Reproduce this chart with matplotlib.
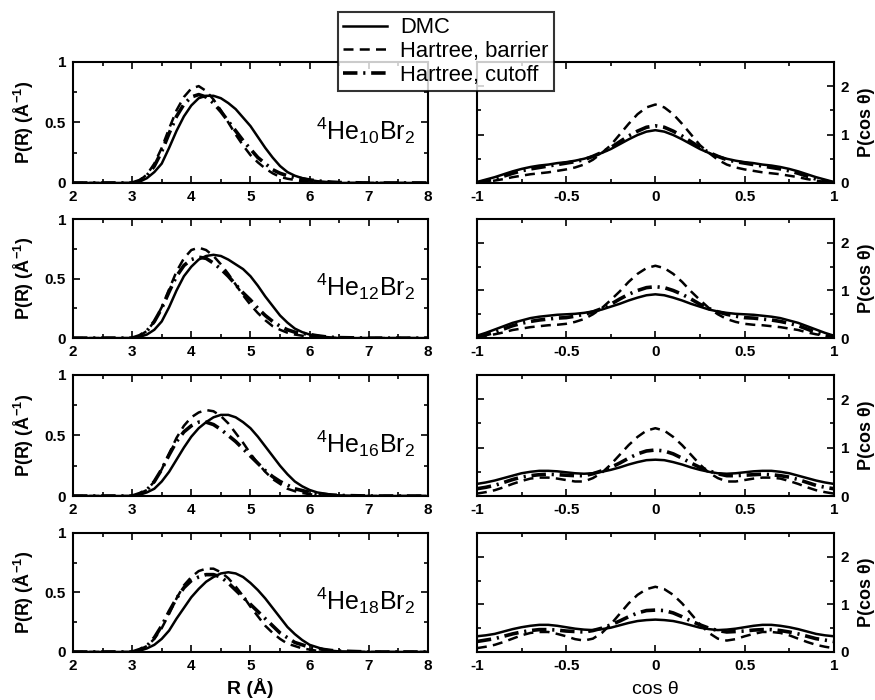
import matplotlib.pyplot as plt
import numpy as np
from matplotlib.ticker import MultipleLocator

plt.rcParams["font.family"] = ["Liberation Sans", "DejaVu Sans"]
plt.rcParams["mathtext.fontset"] = "custom"
plt.rcParams["mathtext.rm"] = "Liberation Sans"
plt.rcParams["mathtext.bf"] = "Liberation Sans:bold"

## radial distributions P(R), R in Angstrom
R = [2.0, 2.5, 2.75,
     3.0, 3.125, 3.25, 3.375, 3.5, 3.625, 3.75, 3.875, 4.0, 4.125, 4.25, 4.375,
     4.5, 4.625, 4.75, 4.875, 5.0, 5.125, 5.25, 5.375, 5.5, 5.625, 5.75, 5.875,
     6.0, 6.125, 6.25, 6.375, 6.5,
     7.0, 7.5, 8.0]

dmc_10 = [0, 0, 0,
          0.0, 0.01, 0.04, 0.09, 0.16, 0.29, 0.43, 0.55, 0.64, 0.70, 0.72, 0.72,
          0.70, 0.66, 0.61, 0.54, 0.47, 0.38, 0.29, 0.21, 0.14, 0.09, 0.06, 0.04,
          0.025, 0.015, 0.01, 0.005, 0.0,
          0, 0, 0]
bar_10 = [0, 0, 0,
          0.0, 0.02, 0.07, 0.16, 0.29, 0.45, 0.60, 0.71, 0.78, 0.80, 0.76, 0.69,
          0.60, 0.50, 0.40, 0.31, 0.23, 0.17, 0.12, 0.08, 0.05, 0.035, 0.025, 0.015,
          0.01, 0.005, 0.0, 0.0, 0.0,
          0, 0, 0]
cut_10 = [0, 0, 0,
          0.0, 0.02, 0.06, 0.14, 0.26, 0.41, 0.55, 0.65, 0.71, 0.73, 0.71, 0.66,
          0.59, 0.51, 0.43, 0.35, 0.28, 0.21, 0.16, 0.11, 0.08, 0.06, 0.045, 0.035,
          0.025, 0.018, 0.012, 0.007, 0.004,
          0, 0, 0]

dmc_12 = [0, 0, 0,
          0.0, 0.01, 0.03, 0.07, 0.14, 0.26, 0.40, 0.52, 0.60, 0.66, 0.69, 0.70,
          0.69, 0.66, 0.62, 0.58, 0.52, 0.44, 0.35, 0.27, 0.19, 0.13, 0.08, 0.05,
          0.03, 0.02, 0.01, 0.005, 0.0,
          0, 0, 0]
bar_12 = [0, 0, 0,
          0.0, 0.02, 0.06, 0.14, 0.26, 0.41, 0.56, 0.67, 0.74, 0.76, 0.74, 0.69,
          0.62, 0.54, 0.45, 0.36, 0.28, 0.21, 0.15, 0.10, 0.07, 0.045, 0.03, 0.02,
          0.01, 0.005, 0.0, 0.0, 0.0,
          0, 0, 0]
cut_12 = [0, 0, 0,
          0.0, 0.02, 0.06, 0.14, 0.25, 0.39, 0.52, 0.61, 0.66, 0.68, 0.67, 0.63,
          0.58, 0.52, 0.45, 0.38, 0.32, 0.25, 0.19, 0.14, 0.10, 0.07, 0.05, 0.04,
          0.03, 0.02, 0.012, 0.007, 0.004,
          0, 0, 0]

dmc_16 = [0, 0, 0,
          0.0, 0.01, 0.03, 0.06, 0.12, 0.20, 0.30, 0.40, 0.49, 0.56, 0.61, 0.65,
          0.67, 0.67, 0.65, 0.61, 0.56, 0.49, 0.41, 0.33, 0.25, 0.18, 0.12, 0.08,
          0.05, 0.03, 0.02, 0.01, 0.005,
          0, 0, 0]
bar_16 = [0, 0, 0,
          0.0, 0.02, 0.05, 0.12, 0.22, 0.35, 0.48, 0.58, 0.65, 0.69, 0.71, 0.70,
          0.66, 0.60, 0.52, 0.44, 0.35, 0.27, 0.20, 0.14, 0.10, 0.06, 0.04, 0.025,
          0.015, 0.008, 0.004, 0.0, 0.0,
          0, 0, 0]
cut_16 = [0, 0, 0,
          0.0, 0.02, 0.05, 0.12, 0.22, 0.34, 0.45, 0.53, 0.58, 0.61, 0.61, 0.59,
          0.55, 0.50, 0.45, 0.39, 0.33, 0.27, 0.21, 0.16, 0.12, 0.09, 0.06, 0.045,
          0.03, 0.02, 0.013, 0.008, 0.005,
          0, 0, 0]

dmc_18 = [0, 0, 0,
          0.0, 0.01, 0.03, 0.06, 0.11, 0.18, 0.28, 0.37, 0.46, 0.53, 0.59, 0.63,
          0.66, 0.67, 0.66, 0.63, 0.58, 0.52, 0.45, 0.37, 0.29, 0.21, 0.15, 0.10,
          0.06, 0.04, 0.02, 0.01, 0.005,
          0, 0, 0]
bar_18 = [0, 0, 0,
          0.0, 0.02, 0.05, 0.11, 0.20, 0.32, 0.45, 0.56, 0.63, 0.68, 0.70, 0.70,
          0.67, 0.62, 0.55, 0.47, 0.38, 0.30, 0.22, 0.16, 0.11, 0.07, 0.05, 0.03,
          0.02, 0.01, 0.005, 0.0, 0.0,
          0, 0, 0]
cut_18 = [0, 0, 0,
          0.0, 0.02, 0.05, 0.12, 0.22, 0.34, 0.45, 0.54, 0.60, 0.63, 0.65, 0.65,
          0.63, 0.58, 0.52, 0.46, 0.40, 0.34, 0.28, 0.22, 0.16, 0.12, 0.08, 0.06,
          0.04, 0.03, 0.02, 0.012, 0.008,
          0, 0, 0]

## angular distributions P(cos theta)
c = [-1.0, -0.95, -0.9, -0.85, -0.8, -0.75, -0.7, -0.65, -0.6, -0.55, -0.5,
     -0.45, -0.4, -0.35, -0.3, -0.25, -0.2, -0.15, -0.1, -0.05, 0.0,
     0.05, 0.1, 0.15, 0.2, 0.25, 0.3, 0.35, 0.4, 0.45, 0.5,
     0.55, 0.6, 0.65, 0.7, 0.75, 0.8, 0.85, 0.9, 0.95, 1.0]

adm_10 = [0.02, 0.07, 0.12, 0.18, 0.24, 0.29, 0.33, 0.36, 0.38, 0.41, 0.43,
          0.46, 0.50, 0.55, 0.62, 0.70, 0.80, 0.90, 0.99, 1.06, 1.09,
          1.06, 0.99, 0.90, 0.80, 0.70, 0.62, 0.55, 0.50, 0.46, 0.43,
          0.41, 0.38, 0.36, 0.33, 0.29, 0.24, 0.18, 0.12, 0.07, 0.02]
aba_10 = [0.00, 0.02, 0.05, 0.08, 0.12, 0.15, 0.18, 0.20, 0.22, 0.25, 0.28,
          0.32, 0.38, 0.48, 0.62, 0.78, 1.00, 1.22, 1.42, 1.56, 1.62,
          1.56, 1.42, 1.22, 1.00, 0.78, 0.62, 0.48, 0.38, 0.32, 0.28,
          0.25, 0.22, 0.20, 0.18, 0.15, 0.12, 0.08, 0.05, 0.02, 0.00]
acu_10 = [0.00, 0.04, 0.08, 0.14, 0.20, 0.25, 0.29, 0.32, 0.35, 0.38, 0.41,
          0.44, 0.48, 0.55, 0.63, 0.73, 0.85, 0.97, 1.07, 1.15, 1.18,
          1.15, 1.07, 0.97, 0.85, 0.73, 0.63, 0.55, 0.48, 0.44, 0.41,
          0.38, 0.35, 0.32, 0.29, 0.25, 0.20, 0.14, 0.08, 0.04, 0.00]

adm_12 = [0.05, 0.11, 0.18, 0.25, 0.32, 0.37, 0.42, 0.45, 0.47, 0.49, 0.50,
          0.51, 0.53, 0.56, 0.60, 0.66, 0.72, 0.79, 0.85, 0.90, 0.92,
          0.90, 0.85, 0.79, 0.72, 0.66, 0.60, 0.56, 0.53, 0.51, 0.50,
          0.49, 0.47, 0.45, 0.42, 0.37, 0.32, 0.25, 0.18, 0.11, 0.05]
aba_12 = [0.02, 0.05, 0.08, 0.12, 0.17, 0.20, 0.23, 0.25, 0.27, 0.28, 0.30,
          0.34, 0.40, 0.50, 0.63, 0.80, 0.98, 1.18, 1.35, 1.47, 1.52,
          1.47, 1.35, 1.18, 0.98, 0.80, 0.63, 0.50, 0.40, 0.34, 0.30,
          0.28, 0.27, 0.25, 0.23, 0.20, 0.17, 0.12, 0.08, 0.05, 0.02]
acu_12 = [0.03, 0.07, 0.12, 0.19, 0.26, 0.31, 0.35, 0.38, 0.40, 0.42, 0.43,
          0.46, 0.50, 0.55, 0.62, 0.71, 0.82, 0.92, 1.00, 1.06, 1.08,
          1.06, 1.00, 0.92, 0.82, 0.71, 0.62, 0.55, 0.50, 0.46, 0.43,
          0.42, 0.40, 0.38, 0.35, 0.31, 0.26, 0.19, 0.12, 0.07, 0.03]

adm_16 = [0.25, 0.28, 0.32, 0.37, 0.42, 0.47, 0.50, 0.52, 0.52, 0.51, 0.49,
          0.47, 0.46, 0.47, 0.50, 0.54, 0.59, 0.65, 0.70, 0.74, 0.75,
          0.74, 0.70, 0.65, 0.59, 0.54, 0.50, 0.47, 0.46, 0.47, 0.49,
          0.51, 0.52, 0.52, 0.50, 0.47, 0.42, 0.37, 0.32, 0.28, 0.25]
aba_16 = [0.05, 0.08, 0.12, 0.18, 0.25, 0.31, 0.36, 0.38, 0.38, 0.36, 0.33,
          0.30, 0.30, 0.37, 0.48, 0.65, 0.85, 1.05, 1.22, 1.35, 1.40,
          1.35, 1.22, 1.05, 0.85, 0.65, 0.48, 0.37, 0.30, 0.30, 0.33,
          0.36, 0.38, 0.38, 0.36, 0.31, 0.25, 0.18, 0.12, 0.08, 0.05]
acu_16 = [0.15, 0.18, 0.22, 0.28, 0.34, 0.39, 0.42, 0.44, 0.45, 0.44, 0.43,
          0.42, 0.42, 0.46, 0.52, 0.59, 0.68, 0.78, 0.87, 0.93, 0.95,
          0.93, 0.87, 0.78, 0.68, 0.59, 0.52, 0.46, 0.42, 0.42, 0.43,
          0.44, 0.45, 0.44, 0.42, 0.39, 0.34, 0.28, 0.22, 0.18, 0.15]

adm_18 = [0.33, 0.35, 0.38, 0.43, 0.48, 0.52, 0.55, 0.57, 0.57, 0.55, 0.52,
          0.49, 0.47, 0.46, 0.48, 0.51, 0.56, 0.61, 0.65, 0.67, 0.68,
          0.67, 0.65, 0.61, 0.56, 0.51, 0.48, 0.46, 0.47, 0.49, 0.52,
          0.55, 0.57, 0.57, 0.55, 0.52, 0.48, 0.43, 0.38, 0.35, 0.33]
aba_18 = [0.08, 0.11, 0.15, 0.21, 0.28, 0.35, 0.40, 0.42, 0.42, 0.38, 0.33,
          0.27, 0.24, 0.28, 0.40, 0.58, 0.80, 1.02, 1.20, 1.32, 1.37,
          1.32, 1.20, 1.02, 0.80, 0.58, 0.40, 0.28, 0.24, 0.27, 0.33,
          0.38, 0.42, 0.42, 0.40, 0.35, 0.28, 0.21, 0.15, 0.11, 0.08]
acu_18 = [0.22, 0.25, 0.28, 0.33, 0.38, 0.42, 0.45, 0.47, 0.47, 0.46, 0.44,
          0.43, 0.42, 0.45, 0.50, 0.57, 0.65, 0.74, 0.82, 0.87, 0.88,
          0.87, 0.82, 0.74, 0.65, 0.57, 0.50, 0.45, 0.42, 0.43, 0.44,
          0.46, 0.47, 0.47, 0.45, 0.42, 0.38, 0.33, 0.28, 0.25, 0.22]

sizes = ["10", "12", "16", "18"]
radial = [(dmc_10, bar_10, cut_10), (dmc_12, bar_12, cut_12),
          (dmc_16, bar_16, cut_16), (dmc_18, bar_18, cut_18)]
angular = [(adm_10, aba_10, acu_10), (adm_12, aba_12, acu_12),
           (adm_16, aba_16, acu_16), (adm_18, aba_18, acu_18)]
labels = ["DMC", "Hartree, barrier", "Hartree, cutoff"]

DASH = (0, (4, 2.5))
DASHDOT = (0, (4, 1.6, 0.6, 1.6))

fig = plt.figure(figsize=(8.75, 7), dpi=100)

# row positions (bottom, height) in figure fraction
rows = [(0.7386, 0.173), (0.517, 0.170), (0.2914, 0.173), (0.0686, 0.170)]

def style(ax, rightlabels=False):
    ax.tick_params(which="both", direction="in", top=True, right=True, width=1.2)
    ax.tick_params(which="major", length=5, labelsize=11, pad=5)
    ax.tick_params(which="minor", length=3)
    for s in ax.spines.values():
        s.set_linewidth(1.5)
    if rightlabels:
        ax.tick_params(labelleft=False, labelright=True)
    for t in ax.get_xticklabels() + ax.get_yticklabels():
        t.set_fontweight("bold")

def draw(ax, x, ys):
    ax.plot(x, ys[0], color="k", lw=1.8, ls="-")
    ax.plot(x, ys[1], color="k", lw=1.8, ls=DASH)
    ax.plot(x, ys[2], color="k", lw=2.6, ls=DASHDOT)

for i in range(4):
    b, h = rows[i]
    axl = fig.add_axes([0.0834, b, 0.4057, h])
    draw(axl, R, radial[i])
    axl.set_xlim(2, 8)
    axl.set_ylim(0, 1)
    axl.xaxis.set_major_locator(MultipleLocator(1))
    axl.xaxis.set_minor_locator(MultipleLocator(0.5))
    axl.yaxis.set_minor_locator(MultipleLocator(0.25))
    axl.set_yticks([0, 0.5, 1], ["0", "0.5", "1"])
    axl.set_ylabel(r"P(R) ($\mathbf{\AA^{-1}}$)", fontsize=13, fontweight="bold", labelpad=6)
    style(axl)
    axl.text(0.965, 0.43, r"$^{4}$He$_{%s}$Br$_{2}$" % sizes[i], transform=axl.transAxes,
             ha="right", va="center", fontsize=18)

    axr = fig.add_axes([0.545, b, 0.408, h])
    draw(axr, c, angular[i])
    axr.set_xlim(-1, 1)
    axr.set_ylim(0, 2.5)
    axr.xaxis.set_minor_locator(MultipleLocator(0.25))
    axr.set_xticks([-1, -0.5, 0, 0.5, 1], ["-1", "-0.5", "0", "0.5", "1"])
    axr.set_yticks([0, 1, 2])
    axr.yaxis.set_minor_locator(MultipleLocator(0.5))
    style(axr, rightlabels=True)
    axr.yaxis.set_label_position("right")
    axr.set_ylabel("P(cos θ)", fontsize=13, fontweight="bold", labelpad=6)

    if i == 3:
        axl.set_xlabel("R (Å)", fontsize=14, fontweight="bold", labelpad=4)
        axr.set_xlabel("cos θ", fontsize=14, labelpad=6)

# legend in figure coordinates, between the top panels
lines = [plt.Line2D([], [], color="k", lw=1.8, ls="-"),
         plt.Line2D([], [], color="k", lw=1.8, ls=DASH),
         plt.Line2D([], [], color="k", lw=2.6, ls=DASHDOT)]
leg = fig.legend(lines, labels, loc="upper left", bbox_to_anchor=(0.386, 0.983),
                 fontsize=15.8, frameon=True, fancybox=False, edgecolor="k",
                 handlelength=2.0, handletextpad=0.6, borderpad=0.25,
                 labelspacing=0.12, borderaxespad=0)
leg.get_frame().set_linewidth(1.5)

fig.savefig("out.png", dpi=100)
